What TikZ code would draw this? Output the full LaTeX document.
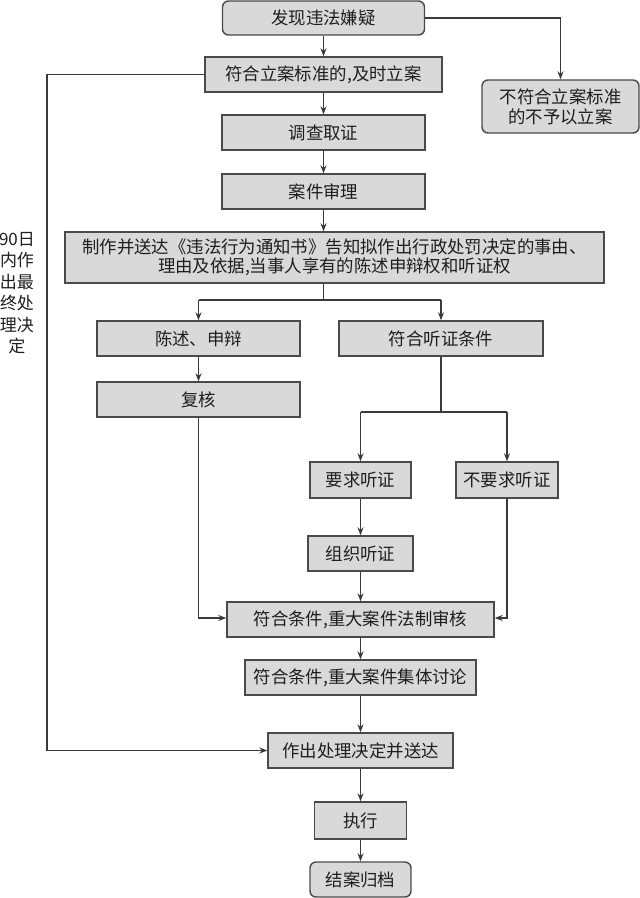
\documentclass[tikz,border=0pt]{standalone}
\usepackage{fontspec}
\newfontfamily\cjk{Noto Sans CJK SC}
\usetikzlibrary{arrows.meta}
\definecolor{boxfill}{HTML}{D9D9D9}
\definecolor{boxline}{HTML}{4A4A4A}
\definecolor{lncol}{HTML}{3A3A3A}
\definecolor{txtcol}{HTML}{1E1E1E}
\tikzset{
  box/.style={draw=boxline, fill=boxfill, line width=1.4pt, inner sep=0pt, align=center,
    text=txtcol, font=\cjk\fontsize{17.4}{20}\selectfont},
  rbox/.style={box, rounded corners=6pt},
  conn/.style={draw=lncol, line width=1.2pt},
  arr/.style={conn, -{Stealth[length=8pt,width=6pt]}},
  sidelabel/.style={align=center, text=txtcol, inner sep=0pt, font=\cjk\fontsize{17}{21.5}\selectfont}
}
\begin{document}
\begin{tikzpicture}[x=1pt,y=-1pt]
\useasboundingbox (0,0) rectangle (640,898);
\fill[white] (0,0) rectangle (640,898);
% nodes
\node[rbox, minimum width=202pt, minimum height=34pt] (n1) at (323.5,18) {发现违法嫌疑};
\node[box, minimum width=237pt, minimum height=35pt] (n2) at (323.5,74.5) {符合立案标准的,及时立案};
\node[rbox, minimum width=157pt, minimum height=53pt] (n3) at (560.5,106.5) {不符合立案标准\\的不予以立案};
\node[box, minimum width=203pt, minimum height=35pt] (n4) at (323.5,132.5) {调查取证};
\node[box, minimum width=203pt, minimum height=35pt] (n5) at (323.5,191.5) {案件审理};
\node[box, minimum width=539pt, minimum height=51pt, font=\cjk\fontsize{17.4}{19}\selectfont] (n6) at (334.5,257.5) {制作并送达《违法行为通知书》告知拟作出行政处罚决定的事由、\\理由及依据,当事人享有的陈述申辩权和听证权};
\node[box, minimum width=203pt, minimum height=35pt] (n7) at (198.5,338.5) {陈述、申辩};
\node[box, minimum width=204pt, minimum height=35pt] (n8) at (441,338.5) {符合听证条件};
\node[box, minimum width=203pt, minimum height=35pt] (n9) at (198.5,399.5) {复核};
\node[box, minimum width=101pt, minimum height=36pt] (n10) at (360.5,480) {要求听证};
\node[box, minimum width=102pt, minimum height=36pt] (n11) at (507,480) {不要求听证};
\node[box, minimum width=105pt, minimum height=35pt] (n12) at (360.5,553.5) {组织听证};
\node[box, minimum width=267pt, minimum height=35pt] (n13) at (360.5,619.5) {符合条件,重大案件法制审核};
\node[box, minimum width=231pt, minimum height=35pt] (n14) at (360.5,677.5) {符合条件,重大案件集体讨论};
\node[box, minimum width=185pt, minimum height=35pt] (n15) at (360.5,750.5) {作出处理决定并送达};
\node[box, minimum width=92pt, minimum height=37pt] (n16) at (360.5,820.5) {执行};
\node[rbox, minimum width=101pt, minimum height=35pt] (n17) at (360.5,879.5) {结案归档};
\node[sidelabel] (lab) at (17,293) {90日\\内作\\出最\\终处\\理决\\定};
% helper coordinates
\coordinate (L) at (47,0);
\coordinate (S) at (323.5,300);
\coordinate (T) at (0,412);
\coordinate (M) at (0,618);
% connectors
\draw[arr] (n1) -- (n2);
\draw[arr] (n1.east) -| (n3.north);
\draw[arr] (n2) -- (n4);
\draw[arr] (n4) -- (n5);
\draw[arr] (n5.south) -- (n5.south |- n6.north);
\draw[arr] (n2.west) -- (n2.west -| L) -- (n15.west -| L) -- (n15.west);
\draw[conn] (n5.south |- n6.south) -- (S);
\draw[conn] (n7.north |- S) -- (n8.north |- S);
\draw[arr] (n7.north |- S) -- (n7.north);
\draw[arr] (n8.north |- S) -- (n8.north);
\draw[arr] (n7) -- (n9);
\draw[arr] (n9.south) -- (n9.south |- M) -- (n13.west |- M);
\draw[conn] (n8.south) -- (n8.south |- T);
\draw[conn] (n10.north |- T) -- (n11.north |- T);
\draw[arr] (n10.north |- T) -- (n10.north);
\draw[arr] (n11.north |- T) -- (n11.north);
\draw[arr] (n10) -- (n12);
\draw[arr] (n12) -- (n13);
\draw[arr] (n11.south) -- (n11.south |- M) -- (n13.east |- M);
\draw[arr] (n13) -- (n14);
\draw[arr] (n14) -- (n15);
\draw[arr] (n15) -- (n16);
\draw[arr] (n16) -- (n17);
\end{tikzpicture}
\end{document}
